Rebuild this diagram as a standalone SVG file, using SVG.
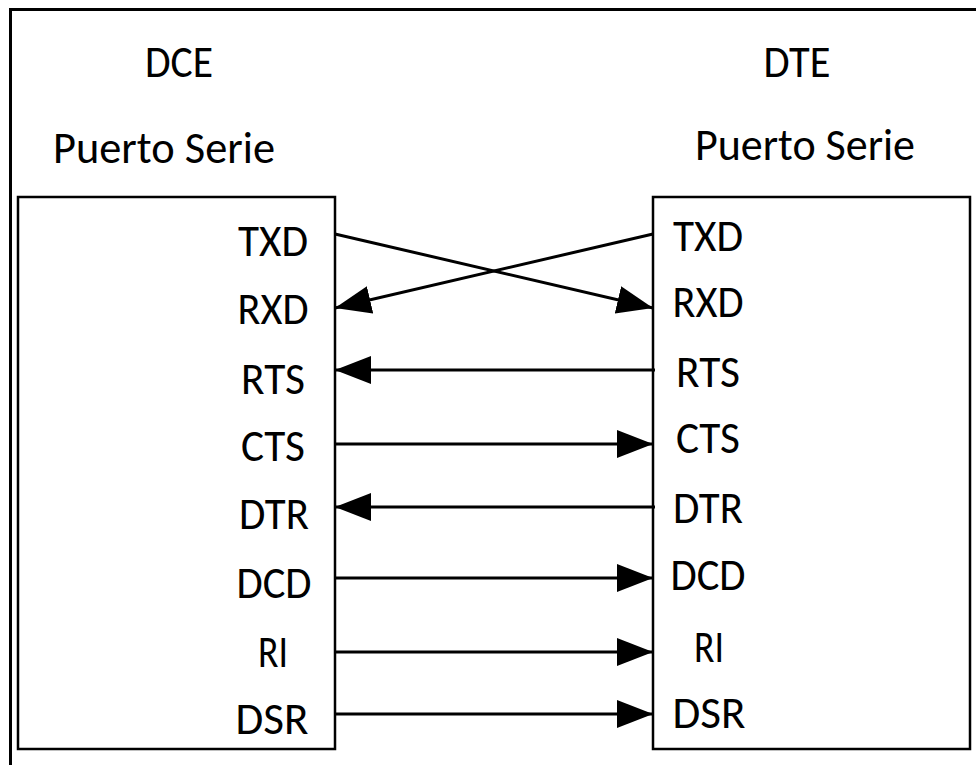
<svg xmlns="http://www.w3.org/2000/svg" width="976" height="765" viewBox="0 0 976 765">
  <style>
    .frame { fill: none; stroke: #000; stroke-width: 3; }
    .box { fill: #fff; stroke: #000; stroke-width: 2.5; }
    .wire { fill: none; stroke: #000; stroke-width: 3; marker-end: url(#arrow); }
    .title { font-family: Carlito, Lato, "Open Sans", sans-serif; font-size: 46px; fill: #000; text-anchor: middle; }
    .pin { font-family: Carlito, Lato, "Open Sans", sans-serif; font-size: 46px; fill: #000; text-anchor: middle; }
  </style>
  <defs>
    <marker id="arrow" viewBox="0 0 36 28" refX="36" refY="14" markerWidth="36" markerHeight="28" markerUnits="userSpaceOnUse" orient="auto">
      <path d="M0,0 L36,14 L0,28 Z" fill="#000"/>
    </marker>
  </defs>

  <rect width="976" height="765" fill="#fff"/>

  <!-- outer frame (left and top edges) -->
  <path class="frame" d="M10.5,765 L10.5,9.5 L976,9.5"/>

  <!-- DCE side -->
  <g id="dce">
    <text class="title" x="179" y="77" textLength="68" lengthAdjust="spacingAndGlyphs">DCE</text>
    <text class="title" x="164" y="163" textLength="222" lengthAdjust="spacingAndGlyphs">Puerto Serie</text>
    <rect class="box" x="18" y="197" width="317" height="552"/>
    <text class="pin" x="273" y="256" textLength="70" lengthAdjust="spacingAndGlyphs">TXD</text>
    <text class="pin" x="273" y="324" textLength="71" lengthAdjust="spacingAndGlyphs">RXD</text>
    <text class="pin" x="273" y="394" textLength="64" lengthAdjust="spacingAndGlyphs">RTS</text>
    <text class="pin" x="273" y="461" textLength="64" lengthAdjust="spacingAndGlyphs">CTS</text>
    <text class="pin" x="274" y="529" textLength="70" lengthAdjust="spacingAndGlyphs">DTR</text>
    <text class="pin" x="274" y="598" textLength="75" lengthAdjust="spacingAndGlyphs">DCD</text>
    <text class="pin" x="273" y="667" textLength="30" lengthAdjust="spacingAndGlyphs">RI</text>
    <text class="pin" x="272" y="734" textLength="73" lengthAdjust="spacingAndGlyphs">DSR</text>
  </g>

  <!-- DTE side -->
  <g id="dte">
    <text class="title" x="797" y="77" textLength="67" lengthAdjust="spacingAndGlyphs">DTE</text>
    <text class="title" x="805" y="160" textLength="220" lengthAdjust="spacingAndGlyphs">Puerto Serie</text>
    <rect class="box" x="653" y="197" width="317" height="552"/>
    <text class="pin" x="708" y="251" textLength="70" lengthAdjust="spacingAndGlyphs">TXD</text>
    <text class="pin" x="708" y="317" textLength="71" lengthAdjust="spacingAndGlyphs">RXD</text>
    <text class="pin" x="708" y="387" textLength="64" lengthAdjust="spacingAndGlyphs">RTS</text>
    <text class="pin" x="708" y="453" textLength="64" lengthAdjust="spacingAndGlyphs">CTS</text>
    <text class="pin" x="708" y="523" textLength="70" lengthAdjust="spacingAndGlyphs">DTR</text>
    <text class="pin" x="708" y="590" textLength="75" lengthAdjust="spacingAndGlyphs">DCD</text>
    <text class="pin" x="709" y="662" textLength="30" lengthAdjust="spacingAndGlyphs">RI</text>
    <text class="pin" x="709" y="728" textLength="73" lengthAdjust="spacingAndGlyphs">DSR</text>
  </g>

  <!-- signal wiring -->
  <g id="connectors">
    <line class="wire" x1="335" y1="234" x2="653" y2="308"/>
    <line class="wire" x1="653" y1="234" x2="335" y2="308"/>
    <line class="wire" x1="655" y1="370" x2="335" y2="370"/>
    <line class="wire" x1="335" y1="444" x2="653" y2="444"/>
    <line class="wire" x1="655" y1="507" x2="335" y2="507"/>
    <line class="wire" x1="335" y1="578" x2="653" y2="578"/>
    <line class="wire" x1="335" y1="652" x2="653" y2="652"/>
    <line class="wire" x1="335" y1="714" x2="653" y2="714"/>
  </g>
</svg>
